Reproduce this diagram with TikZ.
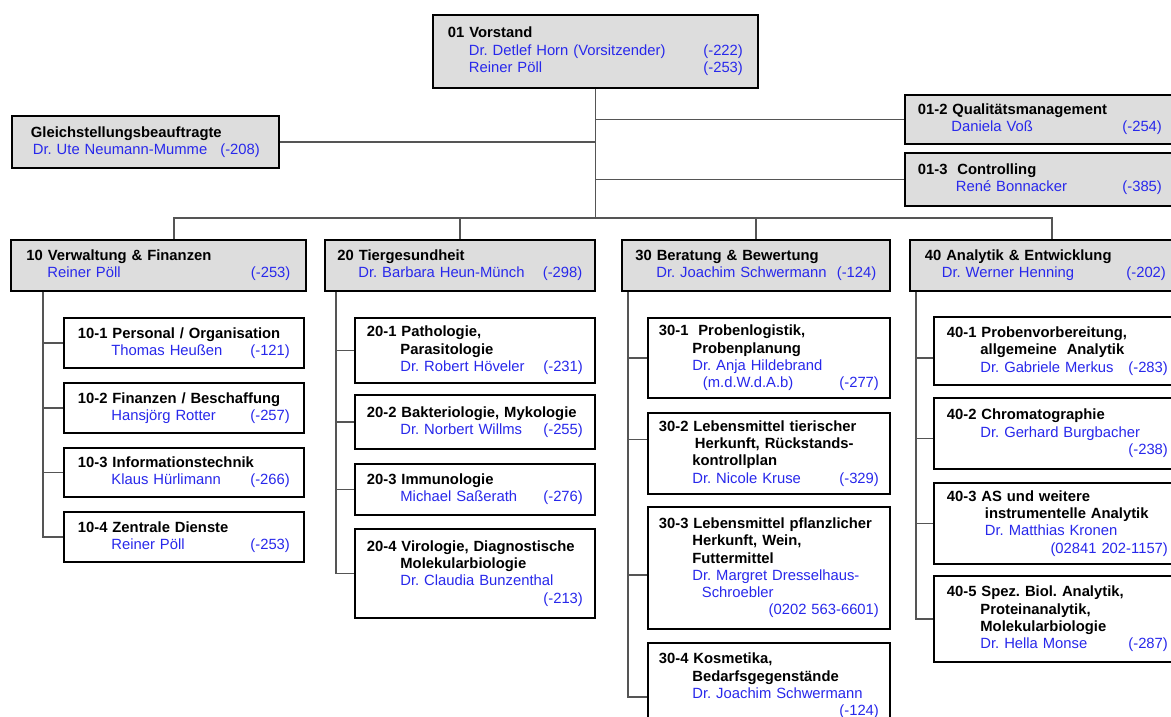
\documentclass[tikz,border=0pt]{standalone}
\usepackage{fontspec}
\setmainfont{Liberation Sans}
\usepackage{tikz}
\usetikzlibrary{positioning, calc}
\definecolor{boxgray}{RGB}{221,221,221}
\definecolor{nameblue}{RGB}{40,40,235}
\definecolor{linegray}{RGB}{85,85,85}
\newcommand{\who}[1]{\textcolor{nameblue}{#1}}
\newcommand{\ind}{\hspace*{33.5pt}}
\newcommand{\hind}{\hspace*{21pt}}
\frenchspacing

\begin{document}
\begin{tikzpicture}[x=1pt, y=-1pt,
		head/.style={rectangle, draw, line width=1.8pt, fill=boxgray, anchor=north west, align=left, inner ysep=2pt, font=\fontsize{14.8}{17.3}\selectfont},
		unit/.style={head, fill=white},
		conn/.style={draw=linegray, line width=1.3pt}
		]
		\useasboundingbox (0,0) rectangle (1171,717);
		\clip (0,0) rectangle (1171,717);
		
		\node[head, inner xsep=15pt, text width=295pt, minimum height=73pt] (vor) at (432, 14) {\textbf{01 Vorstand}\\ \hind\who{Dr. Detlef Horn (Vorsitzender)\hfill(-222)}\\ \hind\who{Reiner Pöll\hfill(-253)}};
		\node[head, inner xsep=19pt, text width=229pt, minimum height=52pt] (gleich) at (11, 115) {\textbf{Gleichstellungsbeauftragte}\\ \hspace*{2pt}\who{Dr. Ute Neumann-Mumme\hfill(-208)}};
		\node[head, inner xsep=13pt, text width=244pt, minimum height=49pt] (qual) at (904, 94) {\textbf{01-2 Qualitätsmanagement}\\ \ind\who{Daniela Voß\hfill(-254)}};
		\node[head, inner xsep=13pt, text width=244pt, minimum height=53pt] (contr) at (904, 152) {\textbf{01-3\ \ Controlling}\\ \hspace*{38pt}\who{René Bonnacker\hfill(-385)}};
		\draw[conn] (vor.south) |- (gleich.east);
		\draw[conn] (vor.south) |- (qual.west);
		\draw[conn] (vor.south) |- (contr.west);
		
		\node[head, inner xsep=15.5pt, text width=264pt, minimum height=51pt] (h10) at (10, 239) {\textbf{10 Verwaltung \& Finanzen}\\ \hind\who{Reiner Pöll\hfill(-253)}};
		\node[head, inner xsep=12.5pt, text width=245pt, minimum height=51pt] (h20) at (324, 239) {\textbf{20 Tiergesundheit}\\ \hind\who{Dr. Barbara Heun-Münch\hfill(-298)}};
		\node[head, inner xsep=13.5pt, text width=241pt, minimum height=51pt] (h30) at (621, 239) {\textbf{30 Beratung \& Bewertung}\\ \hind\who{Dr. Joachim Schwermann\hfill(-124)}};
		\node[head, inner xsep=15pt, text width=241pt, minimum height=51pt] (h40) at (909, 239) {\textbf{40 Analytik \& Entwicklung}\\ \hspace*{17pt}\who{Dr. Werner Henning\hfill(-202)}};
		\coordinate (bus) at (vor.south |- 0, 218);
		\draw[conn] (vor.south) -- (bus);
		\draw[conn] ([xshift=15.5pt]h10.north) |- (bus) -| ([xshift=6.5pt]h40.north);
		\draw[conn] (bus -| h20.north) -- (h20.north);
		\draw[conn] (bus -| h30.north) -- (h30.north);
		
		% 10
		\node[unit, inner xsep=14pt, text width=212pt, minimum height=50pt] (u11) at (63, 317) {\textbf{10-1 Personal / Organisation}\\ \ind\who{Thomas Heußen\hfill(-121)}};
		\node[unit, inner xsep=14pt, text width=212pt, minimum height=50pt] (u12) at (63, 382) {\textbf{10-2 Finanzen / Beschaffung}\\ \ind\who{Hansjörg Rotter\hfill(-257)}};
		\node[unit, inner xsep=14pt, text width=212pt, minimum height=49pt] (u13) at (63, 447) {\textbf{10-3 Informationstechnik}\\ \ind\who{Klaus Hürlimann\hfill(-266)}};
		\node[unit, inner xsep=14pt, text width=212pt, minimum height=50pt] (u14) at (63, 511) {\textbf{10-4 Zentrale Dienste}\\ \ind\who{Reiner Pöll\hfill(-253)}};
		\draw[conn] ([xshift=33pt]h10.south west) |- (u11.west);
		\draw[conn] ([xshift=33pt]h10.south west) |- (u12.west);
		\draw[conn] ([xshift=33pt]h10.south west) |- (u13.west);
		\draw[conn] ([xshift=33pt]h10.south west) |- (u14.west);
		
		% 20
		\node[unit, inner xsep=12pt, text width=216pt, minimum height=65pt] (u21) at (354, 317) {\textbf{20-1 Pathologie,}\\ \ind\textbf{Parasitologie}\\ \ind\who{Dr. Robert Höveler\hfill(-231)}};
		\node[unit, inner xsep=12pt, text width=216pt, minimum height=54pt] (u22) at (354, 394) {\textbf{20-2 Bakteriologie, Mykologie}\\ \ind\who{Dr. Norbert Willms\hfill(-255)}};
		\node[unit, inner xsep=12pt, text width=216pt, minimum height=51pt] (u23) at (354, 463) {\textbf{20-3 Immunologie}\\ \ind\who{Michael Saßerath\hfill(-276)}};
		\node[unit, inner xsep=12pt, text width=216pt, minimum height=89pt] (u24) at (354, 528) {\textbf{20-4 Virologie, Diagnostische}\\ \ind\textbf{Molekularbiologie}\\ \ind\who{Dr. Claudia Bunzenthal}\\ \hspace*{\fill}\who{(-213)}};
		\draw[conn] ([xshift=12pt]h20.south west) |- (u21.west);
		\draw[conn] ([xshift=12pt]h20.south west) |- (u22.west);
		\draw[conn] ([xshift=12pt]h20.south west) |- (u23.west);
		\draw[conn] ([xshift=12pt]h20.south west) |- (u24.west);
		
		% 30
		\node[unit, inner xsep=11pt, text width=220pt, minimum height=80pt] (u31) at (647, 317) {\textbf{30-1\ \ Probenlogistik,}\\ \ind\textbf{Probenplanung}\\ \ind\who{Dr. Anja Hildebrand}\\ \hspace*{44pt}\who{(m.d.W.d.A.b)\hfill(-277)}};
		\node[unit, inner xsep=11pt, text width=220pt, minimum height=81pt] (u32) at (647, 412) {\textbf{30-2 Lebensmittel tierischer}\\ \hspace*{36pt}\textbf{Herkunft, Rückstands-}\\ \ind\textbf{kontrollplan}\\ \ind\who{Dr. Nicole Kruse\hfill(-329)}};
		\node[unit, inner xsep=11pt, text width=220pt, minimum height=122pt] (u33) at (647, 506) {\textbf{30-3 Lebensmittel pflanzlicher}\\ \ind\textbf{Herkunft, Wein,}\\ \ind\textbf{Futtermittel}\\ \ind\who{Dr. Margret Dresselhaus-}\\ \hspace*{43pt}\who{Schroebler}\\ \hspace*{\fill}\who{(0202 563-6601)}};
		\node[unit, inner xsep=11pt, text width=220pt, minimum height=86pt] (u34) at (647, 642) {\textbf{30-4 Kosmetika,}\\ \ind\textbf{Bedarfsgegenstände}\\ \ind\who{Dr. Joachim Schwermann}\\ \hspace*{\fill}\who{(-124)}};
		\draw[conn] ([xshift=7pt]h30.south west) |- (u31.west);
		\draw[conn] ([xshift=7pt]h30.south west) |- ([yshift=14pt]u32.west);
		\draw[conn] ([xshift=7pt]h30.south west) |- ([yshift=-7pt]u33.west);
		\draw[conn] ([xshift=7pt]h30.south west) |- ([yshift=-11pt]u34.west);
		
		% 40
		\node[unit, inner xsep=13pt, text width=221pt, minimum height=68pt] (u41) at (933, 316) {\textbf{40-1 Probenvorbereitung,}\\ \ind\textbf{allgemeine\ \ Analytik}\\ \ind\who{Dr. Gabriele Merkus\hfill(-283)}};
		\node[unit, inner xsep=13pt, text width=221pt, minimum height=71pt] (u42) at (933, 397) {\textbf{40-2 Chromatographie}\\ \ind\who{Dr. Gerhard Burgbacher}\\ \hspace*{\fill}\who{(-238)}};
		\node[unit, inner xsep=13pt, text width=221pt, minimum height=81pt] (u43) at (933, 482) {\textbf{40-3 AS und weitere}\\ \hspace*{38pt}\textbf{instrumentelle Analytik}\\ \hspace*{38pt}\who{Dr. Matthias Kronen}\\ \hspace*{\fill}\who{(02841 202-1157)}};
		\node[unit, inner xsep=13pt, text width=221pt, minimum height=86pt] (u44) at (933, 575) {\textbf{40-5 Spez. Biol. Analytik,}\\ \ind\textbf{Proteinanalytik,}\\ \ind\textbf{Molekularbiologie}\\ \ind\who{Dr. Hella Monse\hfill(-287)}};
		\draw[conn] ([xshift=7pt]h40.south west) |- ([yshift=-7pt]u41.west);
		\draw[conn] ([xshift=7pt]h40.south west) |- ([yshift=-5pt]u42.west);
		\draw[conn] ([xshift=7pt]h40.south west) |- (u43.west);
		\draw[conn] ([xshift=7pt]h40.south west) |- (u44.west);
		
\end{tikzpicture}
\end{document}
